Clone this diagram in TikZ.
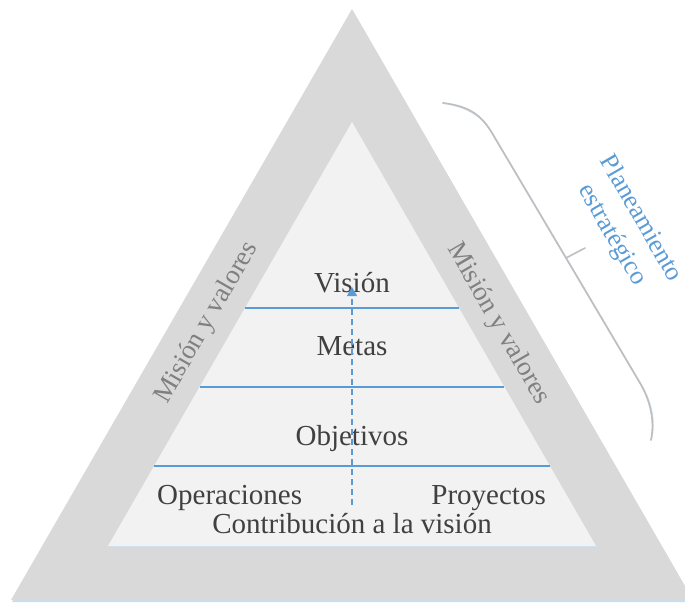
\documentclass[tikz,border=0pt]{standalone}
\usepackage{fontspec}
\setmainfont{Liberation Serif}
\usetikzlibrary{arrows.meta}
\definecolor{bandgray}{HTML}{D9D9D9}
\definecolor{coregray}{HTML}{F2F2F2}
\definecolor{lineblue}{HTML}{5B9BD5}
\definecolor{shadeblue}{HTML}{C9DDF0}
\definecolor{textgray}{HTML}{404040}
\definecolor{labelgray}{HTML}{808080}
\definecolor{bracegray}{HTML}{BFBFBF}

\begin{document}
\begin{tikzpicture}[x=1pt, y=-1pt,
		every node/.style = {inner sep=0pt, font=\fontsize{29}{34}\selectfont, text=textgray},
		level/.style = {draw=lineblue, line width=1.3pt},
		bandlabel/.style = {text=labelgray, font=\fontsize{27}{32}\selectfont},
		bracket/.style = {draw=bracegray, line width=1.6pt, line cap=round}]
		\useasboundingbox (0,0) rectangle (685,604);
		
		% outer band and inner core
		\coordinate (Otop) at (352,9);
		\coordinate (Oleft) at (11,600);
		\coordinate (Oright) at (693,600);
		\coordinate (Itop) at (352,122);
		\coordinate (Ileft) at (108,546);
		\coordinate (Iright) at (596,546);
		\fill[shadeblue] ([shift={(1,2)}]Otop) -- ([shift={(1,2)}]Oleft) -- ([shift={(1,2)}]Oright) -- cycle;
		\fill[bandgray] (Otop) -- (Oleft) -- (Oright) -- cycle;
		\fill[shadeblue] ([shift={(1,2)}]Itop) -- ([shift={(1,2)}]Ileft) -- ([shift={(1,2)}]Iright) -- cycle;
		\fill[coregray] (Itop) -- (Ileft) -- (Iright) -- cycle;
		
		% levels
		\foreach \y in {308, 387, 466} {
			\draw[level] ({352-(\y-122)/1.74},\y) -- ({352+(\y-122)/1.74},\y);
		}
		
		\node[anchor=base] (vision) at (352,292) {Visión};
		\node[anchor=base] (metas) at (352,355) {Metas};
		\node[anchor=base] (objetivos) at (352,445) {Objetivos};
		\node[anchor=base west] (operaciones) at (157,504) {Operaciones};
		\node[anchor=base east] (proyectos) at (546,504) {Proyectos};
		\node[anchor=base] (contribucion) at (352,533) {Contribución a la visión};
		
		\coordinate (arrowfoot) at (352,505);
		\coordinate (arrowtip) at (352,287);
		\draw[lineblue, line width=1.3pt, dash pattern=on 6pt off 4pt, -{Triangle[length=9pt, width=10pt]}] (arrowfoot) -- (arrowtip);
		
		\node[bandlabel, rotate=60] (misionL) at (207,323) {Misión y valores};
		\node[bandlabel, rotate=-60] (misionR) at (498,324) {Misión y valores};
		
		% bracket
		\coordinate (Bstart) at (443,103);
		\coordinate (Bmid) at (566,258);
		\coordinate (Bpoint) at (585,248);
		\coordinate (Bend) at (651,440);
		\begin{scope}[shift={(1,1.5)}]
			\draw[bracket, draw=shadeblue] (Bstart) .. controls (470,106) and (482,116) .. (492,133) -- (640,383) .. controls (650,400) and (655,420) .. (Bend);
		\end{scope}
		\draw[bracket] (Bstart) .. controls (470,106) and (482,116) .. (492,133) -- (640,383) .. controls (650,400) and (655,420) .. (Bend);
		\draw[bracket] (Bmid) -- (Bpoint);
		
		\node[text=lineblue, rotate=-60, align=center, font=\fontsize{26}{33}\selectfont] (planeamiento) at (626,227) {Planeamiento\\estratégico};
		
		\end{tikzpicture}
\end{document}
